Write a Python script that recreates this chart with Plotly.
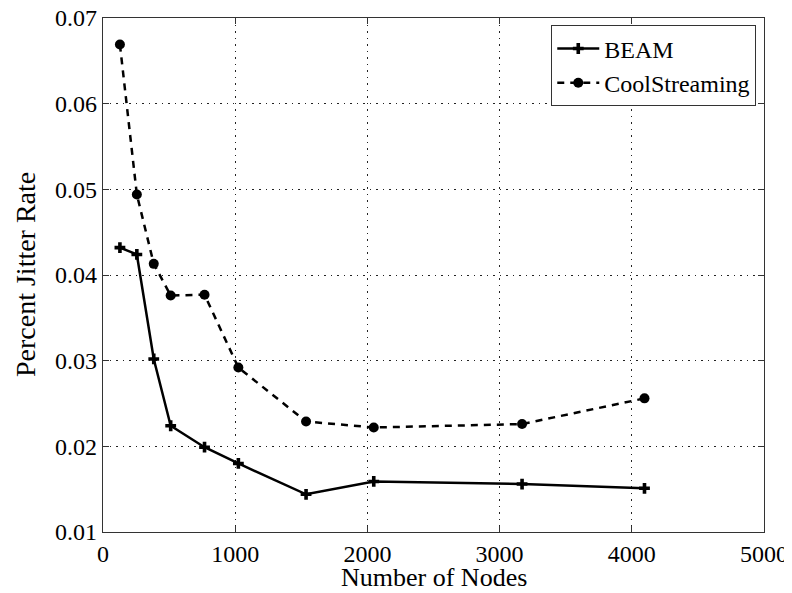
import plotly.graph_objects as go

nodes = [128, 256, 384, 512, 768, 1024, 1536, 2048, 3170, 4096]
beam = [0.0432, 0.0424, 0.0302, 0.0224, 0.0199, 0.0180, 0.0144, 0.0159, 0.0156, 0.0151]
cool = [0.0669, 0.0494, 0.0413, 0.0376, 0.0377, 0.0292, 0.0229, 0.0222, 0.0226, 0.0256]

x_ticks = [0, 1000, 2000, 3000, 4000, 5000]
y_ticks = [0.01, 0.02, 0.03, 0.04, 0.05, 0.06, 0.07]

FONT = "Liberation Serif"

fig = go.Figure()
fig.add_trace(go.Scatter(
    x=nodes, y=beam, name="BEAM", mode="lines+markers",
    line=dict(color="black", width=2.5),
    marker=dict(symbol="cross", size=9, color="black"),
))
fig.add_trace(go.Scatter(
    x=nodes, y=cool, name="CoolStreaming", mode="lines+markers",
    line=dict(color="black", width=2.5, dash="7px,6px"),
    marker=dict(symbol="circle", size=10, color="black"),
))

axis_common = dict(
    showline=True, linecolor="#333", linewidth=1.2, mirror="ticks",
    ticks="inside", ticklen=6, tickcolor="#333",
    showgrid=True, gridcolor="#222", griddash="1.5px,5px", gridwidth=1.3,
    zeroline=False, automargin=False, ticklabeloverflow="allow",
    tickfont=dict(family=FONT, size=24, color="black"),
)

fig.update_xaxes(
    range=[0, 5000], tickvals=x_ticks, ticktext=[str(v) for v in x_ticks],
    **axis_common,
)
fig.update_yaxes(
    range=[0.01, 0.07], tickvals=y_ticks, ticktext=[f"{v:.2f}" for v in y_ticks],
    **axis_common,
)

fig.add_annotation(
    text="Number of Nodes", xref="paper", yref="paper", x=0.5, y=-0.088,
    xanchor="center", yanchor="middle", showarrow=False,
    font=dict(family=FONT, size=26, color="black"),
)
fig.add_annotation(
    text="Percent Jitter Rate", xref="paper", yref="paper", x=-0.118, y=0.5,
    xanchor="center", yanchor="middle", showarrow=False, textangle=-90,
    font=dict(family=FONT, size=28, color="black"),
)

# page body has an 8px default margin, so the figure is sized to fit the window
fig.update_layout(
    width=784, height=585,
    margin=dict(l=95, r=28, t=10, b=61),
    plot_bgcolor="white", paper_bgcolor="white",
    showlegend=True,
    legend=dict(
        x=0.988, y=0.986, xanchor="right", yanchor="top",
        bordercolor="#333", borderwidth=1.2, bgcolor="white",
        font=dict(family=FONT, size=24, color="black"),
        itemwidth=42, tracegroupgap=0,
    ),
)

fig.write_html("out.html")
